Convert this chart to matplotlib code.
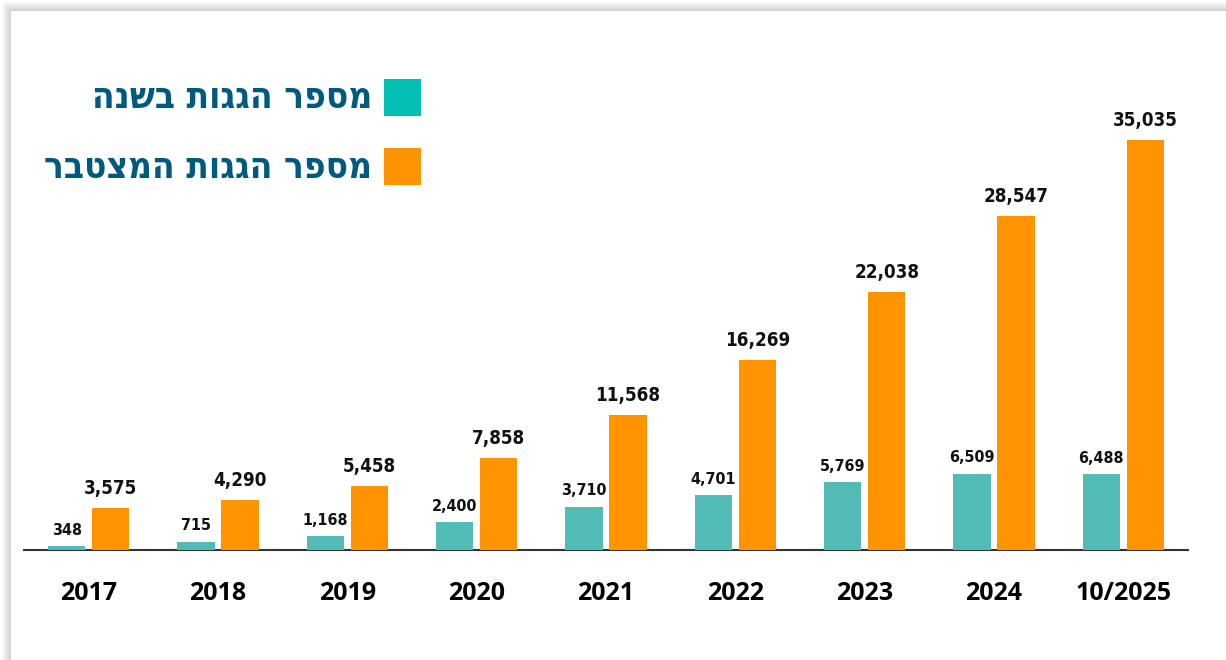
import numpy as np
import matplotlib.pyplot as plt
from matplotlib.patches import Rectangle

years = ['2017', '2018', '2019', '2020', '2021', '2022', '2023', '2024', '10/2025']
per_year = [348, 715, 1168, 2400, 3710, 4701, 5769, 6509, 6488]
cumulative = [3575, 4290, 5458, 7858, 11568, 16269, 22038, 28547, 35035]
legend_labels = ['מספר הגגות בשנה', 'מספר הגגות המצטבר']

teal = '#52bbb5'
orange = '#ff9300'
legend_teal = '#00bfb3'
title_blue = '#005a80'

W, H = 1226, 660
fig = plt.figure(figsize=(W / 100, H / 100), dpi=100)
fig.patch.set_facecolor('white')

# soft card shadow along the top and left edge
for i in range(9):
    fig.patches.append(Rectangle(((2 + i) / W, 0), 1, 1 - (2 + i) / H,
                                 transform=fig.transFigure, facecolor='black',
                                 alpha=0.02, edgecolor='none', zorder=0))
fig.patches.append(Rectangle((11 / W, 0), 1, 1 - 11 / H, transform=fig.transFigure,
                             facecolor='white', edgecolor='none', zorder=0.5))

ax = fig.add_axes([24 / W, 110 / H, 1164 / W, 450 / H])
ax.set_zorder(2)
ax.set_facecolor('none')
x = np.arange(len(years))
bw = 0.29
off = 0.17
b1 = ax.bar(x - off, per_year, bw, color=teal, zorder=3)
b2 = ax.bar(x + off, cumulative, bw, color=orange, zorder=3)

lbl = dict(fontweight='bold', fontstretch='condensed', color='#111111',
           family='DejaVu Sans', ha='center', va='bottom', textcoords='offset points')
for rect, v in zip(b1, per_year):
    ax.annotate(f'{v:,}', (rect.get_x() + rect.get_width() / 2, v), xytext=(0, 6),
                fontsize=11.5, **lbl)
for rect, v in zip(b2, cumulative):
    ax.annotate(f'{v:,}', (rect.get_x() + rect.get_width() / 2, v), xytext=(0, 7),
                fontsize=13.5, **lbl)

ax.set_xlim(-0.5, len(years) - 0.5)
ax.set_ylim(0, 35035 * 450 / 410)
ax.set_xticks(x)
ax.set_xticklabels(years, fontsize=18, fontweight='bold', family='Open Sans')
ax.tick_params(axis='x', length=0, pad=22)
ax.set_yticks([])
for s in ['top', 'right', 'left']:
    ax.spines[s].set_visible(False)
ax.spines['bottom'].set_color('#333333')
ax.spines['bottom'].set_linewidth(1.5)

# legend, Hebrew reversed for visual right-to-left order
for i, (lab, c) in enumerate(zip(legend_labels, [legend_teal, orange])):
    yc = 97 + i * 70
    fig.patches.append(Rectangle((384 / W, 1 - (yc + 18.5) / H), 37 / W, 37 / H,
                                 transform=fig.transFigure, facecolor=c,
                                 edgecolor='none', zorder=5))
    fig.text(372 / W, 1 - yc / H, lab[::-1], ha='right', va='center',
             fontsize=26.5, fontweight='bold', fontstretch='condensed',
             color=title_blue, family='DejaVu Sans', zorder=5)

fig.savefig('out.png', dpi=100)
